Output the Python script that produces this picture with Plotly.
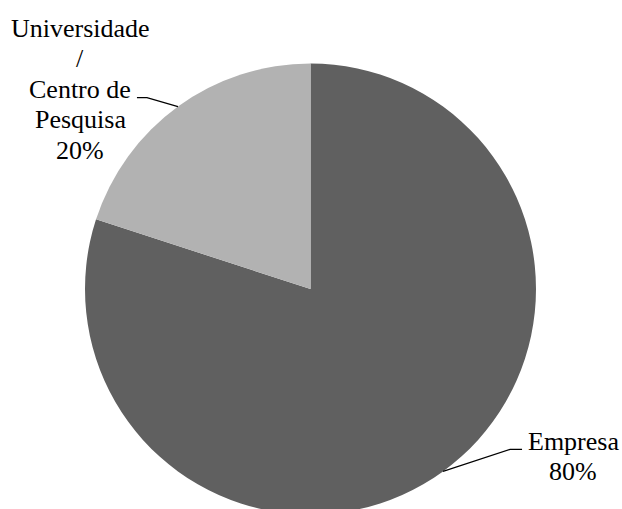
import math
import plotly.graph_objects as go

labels = ["Empresa", "Universidade<br>/<br>Centro de<br>Pesquisa"]
values = [80, 20]
colors = ["#606060", "#b2b2b2"]

W, H = 622, 520
# pie geometry in px
cx, cy, r = 310.5, 289.0, 225.5
FONT = dict(family="Liberation Serif", size=26, color="#000000")
LINE_GAP = 30.6

dom_x = [(cx - r) / W, (cx + r) / W]
dom_y = [max(0.0, 1 - (cy + r) / H), 1 - (cy - r) / H]

fig = go.Figure(go.Pie(
    labels=labels, values=values, sort=False, direction="clockwise", rotation=0,
    marker=dict(colors=colors, line=dict(width=0)),
    textinfo="none", hoverinfo="label+percent", showlegend=False,
    domain=dict(x=dom_x, y=dom_y),
))

def px2paper(x, y):
    return x / W, 1 - y / H

total = sum(values)
cum = 0
# per-slice label style: elbow offset, tail length, text block centre x, first-line y
elbow = [(67, -22), (-31, -9)]
tail = [12, -10]
block = [(573, 441), (80, 28)]
shapes = []
annotations = []
for i, v in enumerate(values):
    mid = (cum + v / 2) / total * 2 * math.pi
    cum += v
    ex, ey = cx + r * math.sin(mid), cy - r * math.cos(mid)
    bx, by = ex + elbow[i][0], ey + elbow[i][1]
    tx = bx + tail[i]
    p0 = px2paper(ex, ey); p1 = px2paper(bx, by); p2 = px2paper(tx, by)
    shapes.append(dict(type="path", xref="paper", yref="paper",
                       path=f"M {p0[0]},{p0[1]} L {p1[0]},{p1[1]} L {p2[0]},{p2[1]}",
                       line=dict(color="#000000", width=1.2)))
    pct = f"{round(v / total * 100)}%"
    lines = labels[i].split("<br>") + [pct]
    bxc, by0 = block[i]
    for k, t in enumerate(lines):
        yy = by0 + k * LINE_GAP
        px_, py_ = px2paper(bxc, yy)
        annotations.append(dict(x=px_, y=py_, xref="paper", yref="paper",
                                xanchor="center", yanchor="middle",
                                text=t, showarrow=False, font=FONT))

fig.update_layout(width=W, height=H, margin=dict(l=0, r=0, t=0, b=0),
                  paper_bgcolor="white", plot_bgcolor="white",
                  shapes=shapes, annotations=annotations, font=FONT)
fig.write_html("out.html", config={"displayModeBar": False},
               post_script="document.body.style.margin='0';")
